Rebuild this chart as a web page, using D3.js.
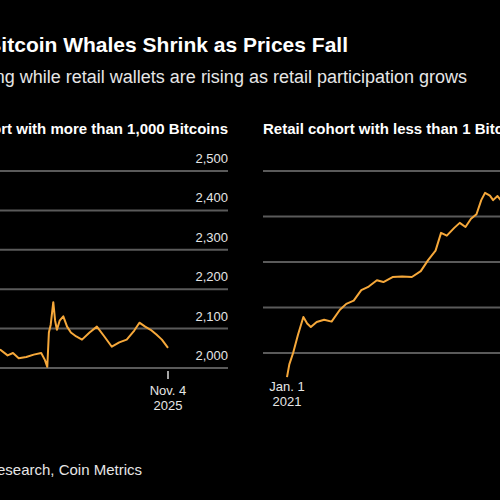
<!DOCTYPE html>
<html>
<head>
<meta charset="utf-8">
<script src="https://cdn.jsdelivr.net/npm/d3@7"></script>
<style>
  body { margin: 0; background: #000; }
  text { font-family: "Liberation Sans", Arial, sans-serif; }
</style>
</head>
<body>
<div class="canvas"></div>
<script>
// whale cohort (more than 1,000 bitcoins)
const whaleDates = ["2021-01-01","2021-06-01","2021-11-01","2022-02-01","2022-04-01","2022-05-15","2022-07-01","2022-09-01","2022-11-01","2023-01-01","2023-02-01","2023-02-20","2023-03-05","2023-03-20","2023-04-10","2023-04-25","2023-05-10","2023-06-01","2023-07-01","2023-08-01","2023-09-01","2023-10-15","2023-12-01","2024-02-01","2024-04-01","2024-06-01","2024-08-01","2024-10-01","2024-12-01","2025-02-01","2025-03-15","2025-05-01","2025-06-15","2025-08-01","2025-09-15","2025-11-04"];
const whaleValues = [2060,2050,2055,2046,2032,2038,2025,2028,2034,2038,2020,2003,2090,2110,2167,2120,2097,2120,2131,2105,2090,2080,2072,2090,2105,2080,2054,2065,2072,2095,2115,2105,2097,2085,2072,2051];

// retail cohort (less than 1 bitcoin)
const retailDates = ["2021-01-01","2021-01-20","2021-02-20","2021-04-01","2021-05-15","2021-06-15","2021-07-15","2021-09-01","2021-11-01","2022-01-01","2022-03-10","2022-05-01","2022-07-01","2022-09-01","2022-11-01","2023-01-07","2023-03-01","2023-05-15","2023-08-01","2023-10-20","2024-01-01","2024-03-01","2024-05-01","2024-06-15","2024-08-01","2024-10-01","2024-11-15","2025-01-01","2025-02-15","2025-04-01","2025-05-10","2025-06-10","2025-07-20","2025-08-15","2025-09-20","2025-11-04"];
const retailValues = [14.7,17.5,20,24,27.9,26.5,25.7,26.8,27.3,26.9,29.5,30.8,31.5,33.8,34.6,36,35.6,36.7,36.8,36.7,38,40.4,42.5,46.4,45.8,47.5,48.6,47.7,49.5,50.5,53.6,55.2,54.6,53.6,54.5,53];

const whaleTicks = [2000, 2100, 2200, 2300, 2400, 2500];
const retailTicks = [20, 30, 40, 50, 60];

const titleText = "Bitcoin Whales Shrink as Prices Fall";
const subtitleText = "Whale holdings are slipping while retail wallets are rising as retail participation grows";
const leftTitle = "Whale cohort with more than 1,000 Bitcoins";
const rightTitle = "Retail cohort with less than 1 Bitcoin";
const sourceText = "Source: Glassnode Research, Coin Metrics";

const w = 500, h = 500;
const parse = d3.timeParse("%Y-%m-%d");
const whale = whaleDates.map((d, i) => ({ date: parse(d), value: whaleValues[i] }));
const retail = retailDates.map((d, i) => ({ date: parse(d), value: retailValues[i] }));
const domain = [parse("2021-01-01"), parse("2025-11-04")];

const svg = d3.select(".canvas").append("svg").attr("width", w).attr("height", h)
  .style("background", "#000");

// titles
svg.append("text").attr("x", 348).attr("y", 52).attr("text-anchor", "end")
  .attr("fill", "#fff").attr("font-size", 21).attr("font-weight", "bold").text(titleText);
svg.append("text").attr("x", 467).attr("y", 83).attr("text-anchor", "end")
  .attr("fill", "#e6e6e6").attr("font-size", 18).text(subtitleText);
svg.append("text").attr("x", 228).attr("y", 134).attr("text-anchor", "end")
  .attr("fill", "#fff").attr("font-size", 15).attr("font-weight", "bold").text(leftTitle);
svg.append("text").attr("x", 263).attr("y", 134)
  .attr("fill", "#fff").attr("font-size", 15).attr("font-weight", "bold").text(rightTitle);
svg.append("text").attr("x", 142).attr("y", 475).attr("text-anchor", "end")
  .attr("fill", "#e6e6e6").attr("font-size", 15).text(sourceText);

// left panel
const xL = d3.scaleTime().domain(domain).range([-48, 168]);
const yL = d3.scaleLinear().domain([2000, 2500]).range([368, 171]);
const left = svg.append("g");
left.selectAll("line.grid").data(whaleTicks).enter().append("line")
  .attr("x1", 0).attr("x2", 228).attr("y1", d => yL(d)).attr("y2", d => yL(d))
  .attr("stroke", "#5a5a5a").attr("stroke-width", 2);
left.selectAll("text.tick").data(whaleTicks).enter().append("text")
  .attr("x", 228).attr("y", d => yL(d) - 8).attr("text-anchor", "end")
  .attr("fill", "#e6e6e6").attr("font-size", 13).text(d3.format(","));
left.append("path").datum(whale)
  .attr("d", d3.line().x(d => xL(d.date)).y(d => yL(d.value)))
  .attr("fill", "none").attr("stroke", "#f6a83a").attr("stroke-width", 2).attr("stroke-linejoin", "round");
left.append("line").attr("x1", xL(domain[1])).attr("x2", xL(domain[1]))
  .attr("y1", 371).attr("y2", 379).attr("stroke", "#ddd").attr("stroke-width", 1.5);
left.append("text").attr("x", xL(domain[1])).attr("y", 395).attr("text-anchor", "middle")
  .attr("fill", "#e6e6e6").attr("font-size", 13).text("Nov. 4");
left.append("text").attr("x", xL(domain[1])).attr("y", 410).attr("text-anchor", "middle")
  .attr("fill", "#e6e6e6").attr("font-size", 13).text("2025");

// right panel
const xR = d3.scaleTime().domain(domain).range([287, 503]);
const yR = d3.scaleLinear().domain([20, 60]).range([353, 171]);
const right = svg.append("g");
right.selectAll("line.grid").data(retailTicks).enter().append("line")
  .attr("x1", 263).attr("x2", 500).attr("y1", d => yR(d)).attr("y2", d => yR(d))
  .attr("stroke", "#5a5a5a").attr("stroke-width", 2);
right.append("path").datum(retail)
  .attr("d", d3.line().x(d => xR(d.date)).y(d => yR(d.value)))
  .attr("fill", "none").attr("stroke", "#f6a83a").attr("stroke-width", 2).attr("stroke-linejoin", "round");
right.append("text").attr("x", xR(domain[0])).attr("y", 391).attr("text-anchor", "middle")
  .attr("fill", "#e6e6e6").attr("font-size", 13).text("Jan. 1");
right.append("text").attr("x", xR(domain[0])).attr("y", 406).attr("text-anchor", "middle")
  .attr("fill", "#e6e6e6").attr("font-size", 13).text("2021");
</script>
</body>
</html>
